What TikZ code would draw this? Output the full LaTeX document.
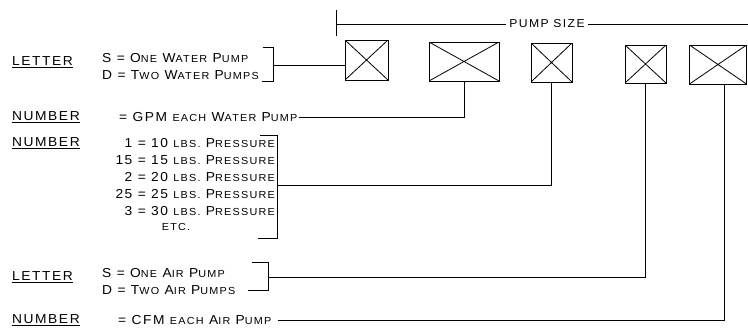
\documentclass[tikz,border=0pt]{standalone}
\usepackage{fontspec}
\setmainfont{Liberation Sans}[LetterSpace=12,FakeStretch=1.06]
\usetikzlibrary{positioning}
\newcommand{\smc}[1]{{\fontsize{10.2}{11}\selectfont #1}}

\begin{document}
\begin{tikzpicture}[x=1pt, y=-1pt,
		node distance=5pt and 8pt,
		lbl/.style={font=\fontsize{13}{13}\selectfont, inner sep=0pt, anchor=west},
		txt/.style={font=\fontsize{13}{13}\selectfont, inner sep=0pt},
		pumpbox/.style={draw, line width=1pt, inner sep=0pt, path picture={
				\draw[line width=0.8pt] (path picture bounding box.north west) -- (path picture bounding box.south east)
				(path picture bounding box.south west) -- (path picture bounding box.north east);}},
		wire/.style={line width=0.9pt}
		]
	\useasboundingbox (0,0) rectangle (748,332);
	
	%% pump size boxes
	\node[pumpbox, minimum width=43pt, minimum height=40pt] (box1) at (366.5,60) {};
	\node[pumpbox, minimum width=70pt, minimum height=39pt] (box2) at (464,61.5) {};
	\node[pumpbox, minimum width=41pt, minimum height=39pt] (box3) at (551.5,62.5) {};
	\node[pumpbox, minimum width=41pt, minimum height=38pt] (box4) at (645.5,64) {};
	\node[pumpbox, minimum width=57pt, minimum height=39pt] (box5) at (718,64.5) {};
	
	%% pump size header
	\node[txt, font=\fontsize{11.5}{12}\selectfont] (size) at (547,24) {PUMP SIZE};
	\coordinate (sizeL) at (336,24);
	\coordinate (sizeR) at (748,24);
	\draw[wire] ([yshift=14pt]sizeL) -- ([yshift=-12pt]sizeL);
	\draw[wire] (sizeL) -- ([xshift=-3pt]size.west);
	\draw[wire] ([xshift=3pt]size.east) -- (sizeR);
	
	%% left column labels
	\node[lbl] (let1) at (12,62) {\underline{LETTER}};
	\node[lbl] (num1) at (12,117) {\underline{NUMBER}};
	\node[lbl] (num2) at (12,143) {\underline{NUMBER}};
	\node[lbl] (let2) at (12,277) {\underline{LETTER}};
	\node[lbl] (num3) at (12,320) {\underline{NUMBER}};
	
	%% water pumps
	\node[lbl] (wS) at (102,58) {S = O\smc{NE} W\smc{ATER} P\smc{UMP}};
	\node[lbl] (wD) at (102,75) {D = T\smc{WO} W\smc{ATER} P\smc{UMPS}};
	\node[lbl] (gpm) at (119,117) {= GPM \smc{EACH} W\smc{ATER} P\smc{UMP}};
	\coordinate (brW) at (273,65);
	\draw[wire] (263,47) -- (273,47) -- (273,81) -- (262,81);
	\draw[wire] (brW) -- (brW -| box1.west);
	\draw[wire] ([xshift=1pt]gpm.east) -| (box2.south);
	
	%% pressure
	\node[txt, anchor=east] (p1) at (275,143) {1 = 10 \smc{LBS.} P\smc{RESSURE}};
	\node[txt, anchor=east] (p15) at (275,160) {15 = 15 \smc{LBS.} P\smc{RESSURE}};
	\node[txt, anchor=east] (p2) at (275,177) {2 = 20 \smc{LBS.} P\smc{RESSURE}};
	\node[txt, anchor=east] (p25) at (275,194) {25 = 25 \smc{LBS.} P\smc{RESSURE}};
	\node[txt, anchor=east] (p3) at (275,211) {3 = 30 \smc{LBS.} P\smc{RESSURE}};
	\node[txt] (etc) at (176,227) {\smc{ETC.}};
	\coordinate (brP) at (277,185);
	\draw[wire] (260,135) -- (277,135) -- (277,238) -- (258,238);
	\draw[wire] (brP) -| (box3.south);
	
	%% air pumps
	\node[lbl] (aS) at (102,273) {S = O\smc{NE} A\smc{IR} P\smc{UMP}};
	\node[lbl] (aD) at (102,290) {D = T\smc{WO} A\smc{IR} P\smc{UMPS}};
	\node[lbl] (cfm) at (118,320) {= CFM \smc{EACH} A\smc{IR} P\smc{UMP}};
	\coordinate (brA) at (268,277);
	\draw[wire] (252,262) -- (268,262) -- (268,290) -- (248,290);
	\draw[wire] (brA) -| (box4.south);
	\draw[wire] ([xshift=6pt]cfm.east) -| ([xshift=6pt]box5.south);
	
\end{tikzpicture}
\end{document}
